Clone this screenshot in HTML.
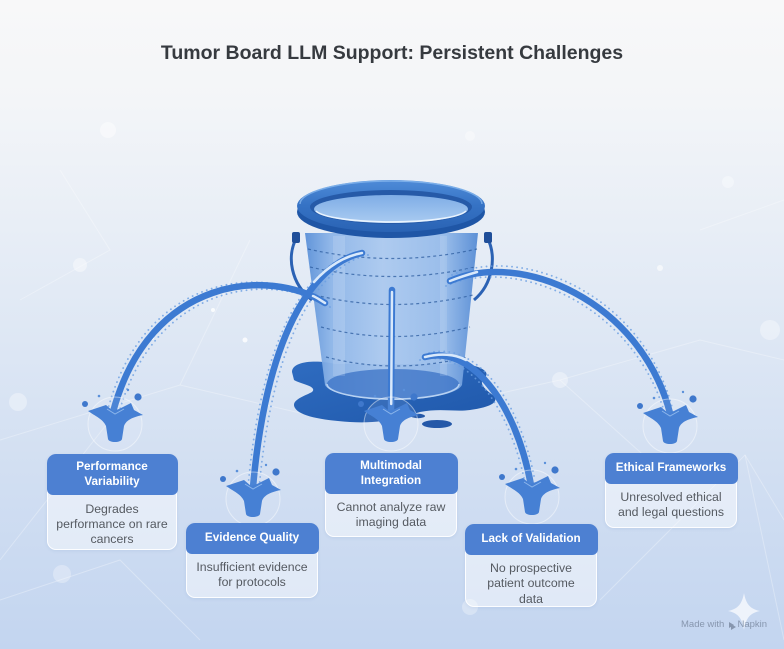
<!DOCTYPE html>
<html><head><meta charset="utf-8">
<style>
html,body{margin:0;padding:0;}
body{width:784px;height:649px;position:relative;overflow:hidden;font-family:"Liberation Sans",Arial,sans-serif;}
svg{position:absolute;left:0;top:0;}
.card{position:absolute;box-sizing:border-box;background:rgba(255,255,255,0.45);border:1.5px solid rgba(255,255,255,0.9);border-radius:9px;box-shadow:0 1px 3px rgba(80,120,180,0.12);}
.hd{margin:-1.5px -1.5px 0 -1.5px;background:#4d80d2;color:#fff;font-weight:bold;font-size:11.7px;text-align:center;border-radius:9px 9px 6px 6px;box-sizing:border-box;line-height:15px;}
.bd{color:#555a61;font-size:12.3px;text-align:center;line-height:15px;}
.title{position:absolute;left:0;width:784px;top:42px;text-align:center;font-weight:bold;font-size:19.5px;color:#363a3f;}
.wm{position:absolute;left:681px;top:619px;font-size:9.5px;color:#8796ae;white-space:nowrap;}
</style></head><body>
<svg width="784" height="649" viewBox="0 0 784 649">
<defs>
<linearGradient id="bg" x1="0" y1="0" x2="0" y2="1">
<stop offset="0" stop-color="#f8f8f9"/>
<stop offset="0.16" stop-color="#f3f5f8"/>
<stop offset="0.45" stop-color="#e2eaf5"/>
<stop offset="0.72" stop-color="#d2dff2"/>
<stop offset="1" stop-color="#c3d5f0"/>
</linearGradient>
<linearGradient id="bodyG" x1="0" y1="0" x2="1" y2="0">
<stop offset="0" stop-color="#5a90d8"/>
<stop offset="0.15" stop-color="#8db5e8"/>
<stop offset="0.45" stop-color="#abc9ef"/>
<stop offset="0.8" stop-color="#96bbea"/>
<stop offset="1" stop-color="#558bd4"/>
</linearGradient>
<linearGradient id="rimG" x1="0" y1="0" x2="0" y2="1">
<stop offset="0" stop-color="#4f8bd8"/>
<stop offset="0.5" stop-color="#3572c4"/>
<stop offset="1" stop-color="#2a63b4"/>
</linearGradient>
<linearGradient id="waterG" x1="0" y1="0" x2="0" y2="1">
<stop offset="0" stop-color="#7fade6"/>
<stop offset="1" stop-color="#a9cbf1"/>
</linearGradient>
<linearGradient id="pudG" x1="0" y1="0" x2="1" y2="1">
<stop offset="0" stop-color="#2f6cc0"/>
<stop offset="1" stop-color="#1f58ab"/>
</linearGradient>
<g id="spl">
<circle cx="0" cy="12" r="27" fill="#ffffff" fill-opacity="0.08" stroke="#ffffff" stroke-opacity="0.45" stroke-width="1"/>
<path d="M -27,-1 L -9,-7 L -2,-1 L 4,-3 L 16,-9 L 19,-2 L 28,3 C 18,5 11,8 9,14 L 7,27 C 6,31 -6,31 -7,27 L -9,14 C -12,7 -20,4 -27,-1 Z" fill="#4680d4"/>
<path d="M -8,-3 L 0,2 L 9,-3" fill="none" stroke="#9cc2f0" stroke-width="1" opacity="0.8"/>
<circle cx="-30" cy="-8" r="3" fill="#3f78cc"/>
<circle cx="23" cy="-15" r="3.6" fill="#3f78cc"/>
<circle cx="-16" cy="-16" r="1.3" fill="#5a90da"/>
<circle cx="13" cy="-22" r="1.2" fill="#5a90da"/>
</g>
</defs>
<rect x="0" y="0" width="784" height="649" fill="url(#bg)"/>
<!-- faint network lines -->
<g stroke="#ffffff" stroke-opacity="0.3" stroke-width="1" fill="none">
<path d="M0,440 L180,385 L330,420"/>
<path d="M110,420 L0,560"/>
<path d="M180,385 L250,240"/>
<path d="M470,400 L560,380 L700,340 L784,360"/>
<path d="M560,380 L660,470"/>
<path d="M600,600 L745,455 L784,520"/>
<path d="M745,455 L784,640"/>
<path d="M0,600 L120,560 L200,640"/>
<path d="M20,300 L110,250 L60,170"/>
<path d="M700,230 L784,200"/>
</g>
<g fill="#ffffff">
<circle cx="108" cy="130" r="8" opacity="0.45"/>
<circle cx="80" cy="265" r="7" opacity="0.4"/>
<circle cx="18" cy="402" r="9" opacity="0.35"/>
<circle cx="62" cy="574" r="9" opacity="0.3"/>
<circle cx="560" cy="380" r="8" opacity="0.35"/>
<circle cx="770" cy="330" r="10" opacity="0.35"/>
<circle cx="728" cy="182" r="6" opacity="0.35"/>
<circle cx="470" cy="136" r="5" opacity="0.35"/>
<circle cx="470" cy="607" r="8" opacity="0.3"/>
<circle cx="660" cy="268" r="3" opacity="0.6"/>
<circle cx="245" cy="340" r="2.5" opacity="0.8"/>
<circle cx="152" cy="338" r="2" opacity="0.8"/>
<circle cx="213" cy="310" r="2" opacity="0.8"/>
</g>
<!-- puddle -->
<path d="M292,372 C292,360 320,360 335,364 L465,364 C480,366 492,372 484,378 C478,384 486,390 494,396 C500,404 485,408 470,410 C455,412 440,408 420,412 C400,418 380,424 350,422 C320,420 300,416 295,408 C290,400 305,396 312,392 C318,386 300,384 294,380 Z" fill="url(#pudG)"/>
<ellipse cx="437" cy="424" rx="15" ry="4" fill="#2458a8"/>
<ellipse cx="418" cy="416" rx="7" ry="2.2" fill="#2458a8"/>
<!-- bucket body -->
<path d="M305,233 L478,233 L462,385 A69,17 0 0 1 325,385 Z" fill="url(#bodyG)" fill-opacity="0.95"/>
<ellipse cx="393" cy="384" rx="66" ry="15" fill="#3a72c6" opacity="0.75"/>
<path d="M327,384 A66,15 0 0 0 459,384" fill="none" stroke="#c9def7" stroke-width="1.5" opacity="0.8"/>
<rect x="333" y="236" width="12" height="140" fill="#ffffff" opacity="0.14"/>
<rect x="440" y="236" width="7" height="140" fill="#ffffff" opacity="0.12"/>
<!-- dashed lines -->
<g fill="none" stroke="#2c5c9f" stroke-width="1.2" stroke-dasharray="3 3" opacity="0.75">
<path d="M308,249 Q392,268 477,249"/>
<path d="M310,267 Q392,286 475,267"/>
<path d="M315,295 Q393,314 473,295"/>
<path d="M321,327 Q393,346 470,327"/>
<path d="M326,357 Q394,375 468,357"/>
</g>
<!-- handles -->
<path d="M297,237 C286,256 291,284 312,300" fill="none" stroke="#2b62b4" stroke-width="3"/>
<path d="M487,237 C497,256 493,284 474,300" fill="none" stroke="#2b62b4" stroke-width="3"/>
<rect x="292" y="232" width="8" height="11" rx="2" fill="#1f4e99"/>
<rect x="484" y="232" width="8" height="11" rx="2" fill="#1f4e99"/>
<!-- rim -->
<ellipse cx="391" cy="212" rx="94" ry="26" fill="#1f56a6"/>
<ellipse cx="391" cy="206" rx="94" ry="26" fill="url(#rimG)"/>
<path d="M300,204 A91,23 0 0 1 482,204" fill="none" stroke="#8fbdf1" stroke-width="1.5" opacity="0.7"/>
<ellipse cx="391" cy="207" rx="81" ry="17" fill="#265aa8"/>
<ellipse cx="391" cy="209" rx="77" ry="14" fill="url(#waterG)"/>
<path d="M316,211 A76,13 0 0 0 466,211" fill="none" stroke="#f0f7ff" stroke-width="1.6" opacity="0.9"/>
<!-- streams particles -->
<g fill="none" stroke="#6a9ee2" stroke-width="1.8" stroke-linecap="round" stroke-dasharray="0.1 5" opacity="0.8">
<path d="M325,303 C270,268 150,275 113,412" transform="translate(-5,-3)"/>
<path d="M325,303 C270,268 150,275 113,412" transform="translate(5,4)"/>
<path d="M362,253 C320,262 268,320 253,487" transform="translate(-5,0)"/>
<path d="M362,253 C320,262 268,320 253,487" transform="translate(6,2)"/>
<path d="M425,357 C470,345 515,400 531,485" transform="translate(4,-4)"/>
<path d="M425,357 C470,345 515,400 531,485" transform="translate(-5,3)"/>
<path d="M450,281 C520,250 640,300 670,413" transform="translate(2,-6)"/>
<path d="M450,281 C520,250 640,300 670,413" transform="translate(-4,5)"/>
</g>
<!-- streams -->
<g fill="none" stroke="#3c7ad2" stroke-width="6.5" stroke-linecap="round">
<path d="M325,303 C270,268 150,275 113,412"/>
<path d="M362,253 C320,262 268,320 253,487"/>
<path d="M425,357 C470,345 515,400 531,485"/>
<path d="M450,281 C520,250 640,300 670,413"/>
<path d="M392,290 L391,412"/>
</g>
<!-- inside-bucket light parts -->
<g fill="none" stroke="#d9e9fb" stroke-width="2.5" stroke-linecap="round">
<path d="M362,253 C345,256 328,266 314,282"/>
<path d="M325,303 C320,300 316,297 313,296"/>
<path d="M425,357 C440,353 455,354 466,360"/>
<path d="M450,281 C460,277 470,274 477,272"/>
<path d="M392,292 L391.2,404"/>
</g>
<!-- splashes -->
<use href="#spl" x="115" y="412"/>
<use href="#spl" x="253" y="487"/>
<use href="#spl" x="391" y="412"/>
<use href="#spl" x="532" y="485"/>
<use href="#spl" x="670" y="414"/>
<!-- sparkle -->
<path d="M744,593 C746,604 750,609 760,611 C750,613 746,618 744,630 C742,618 738,613 728,611 C738,609 742,604 744,593 Z" fill="#ffffff" opacity="0.7"/>
<!-- napkin mini icon -->
<path d="M729,622 l5,3 l-5,3 z M731,624 l5,3 l-5,3 z" fill="#8796ae"/>
</svg>

<div class="title">Tumor Board LLM Support: Persistent Challenges</div>

<div class="card" style="left:47px;top:454px;width:130px;height:96px;">
<div class="hd" style="height:41px;padding-top:5px;">Performance<br>Variability</div>
<div class="bd" style="padding-top:7px;">Degrades<br>performance on rare<br>cancers</div>
</div>

<div class="card" style="left:186px;top:523px;width:132px;height:75px;">
<div class="hd" style="height:31px;padding-top:7.5px;">Evidence Quality</div>
<div class="bd" style="padding-top:6px;">Insufficient evidence<br>for protocols</div>
</div>

<div class="card" style="left:325px;top:453px;width:132px;height:84px;">
<div class="hd" style="height:41px;padding-top:5px;">Multimodal<br>Integration</div>
<div class="bd" style="padding-top:6px;">Cannot analyze raw<br>imaging data</div>
</div>

<div class="card" style="left:465px;top:524px;width:132px;height:83px;">
<div class="hd" style="height:31px;padding-top:7.5px;">Lack of Validation</div>
<div class="bd" style="padding-top:6px;line-height:15.5px;">No prospective<br>patient outcome<br>data</div>
</div>

<div class="card" style="left:605px;top:453px;width:132px;height:75px;">
<div class="hd" style="height:31px;padding-top:7.5px;">Ethical Frameworks</div>
<div class="bd" style="padding-top:6px;">Unresolved ethical<br>and legal questions</div>
</div>

<div class="wm">Made with &nbsp;&nbsp;&nbsp;&nbsp;Napkin</div>
</body></html>
